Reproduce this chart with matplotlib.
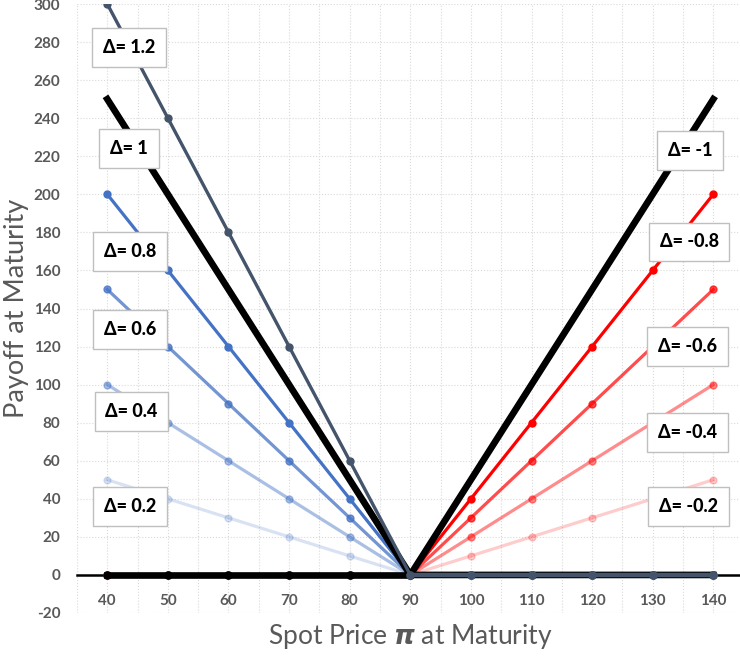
import matplotlib.pyplot as plt

plt.rcParams['font.family'] = ['Lato', 'DejaVu Sans']
plt.rcParams['axes.unicode_minus'] = False

spot = [40, 50, 60, 70, 80, 90, 100, 110, 120, 130, 140]

# payoff lines, one per delta
pay_1_2 = [300, 240, 180, 120, 60, 0, 0, 0, 0, 0, 0]
pay_1 = [250, 200, 150, 100, 50, 0, 0, 0, 0, 0, 0]
pay_0_8 = [200, 160, 120, 80, 40, 0, 0, 0, 0, 0, 0]
pay_0_6 = [150, 120, 90, 60, 30, 0, 0, 0, 0, 0, 0]
pay_0_4 = [100, 80, 60, 40, 20, 0, 0, 0, 0, 0, 0]
pay_0_2 = [50, 40, 30, 20, 10, 0, 0, 0, 0, 0, 0]
pay_m1 = [0, 0, 0, 0, 0, 0, 50, 100, 150, 200, 250]
pay_m0_8 = [0, 0, 0, 0, 0, 0, 40, 80, 120, 160, 200]
pay_m0_6 = [0, 0, 0, 0, 0, 0, 30, 60, 90, 120, 150]
pay_m0_4 = [0, 0, 0, 0, 0, 0, 20, 40, 60, 80, 100]
pay_m0_2 = [0, 0, 0, 0, 0, 0, 10, 20, 30, 40, 50]

# label text and where the box sits (x, y in data units)
labels = ['Δ= 1.2', 'Δ= 1', 'Δ= 0.8', 'Δ= 0.6', 'Δ= 0.4', 'Δ= 0.2',
          'Δ= -1', 'Δ= -0.8', 'Δ= -0.6', 'Δ= -0.4', 'Δ= -0.2']
label_x = [43.6, 43.6, 43.8, 43.8, 44.0, 43.8, 136.2, 136.0, 135.7, 135.7, 135.9]
label_y = [277, 224, 170, 129, 86, 36, 223, 175, 120, 75, 36]

fig = plt.figure(figsize=(7.4, 6.6), dpi=100)
ax = fig.add_axes([77 / 740, 47 / 660, 666.6 / 740, 609 / 660])

blue = '#4472C4'
red = '#FF0000'
for vals, a in zip([pay_0_2, pay_0_4, pay_0_6, pay_0_8], [0.2, 0.45, 0.75, 1.0]):
    ax.plot(spot, vals, color=blue, alpha=a, lw=2.3, marker='o', ms=5, zorder=3)
for vals, a in zip([pay_m0_2, pay_m0_4, pay_m0_6, pay_m0_8], [0.2, 0.45, 0.7, 1.0]):
    ax.plot(spot, vals, color=red, alpha=a, lw=2.3, marker='o', ms=5, zorder=3)

ax.plot(spot, pay_1, color='black', lw=4.8, zorder=4)
ax.plot(spot, pay_1_2, color='#44546A', lw=2.4, marker='o', ms=5, zorder=5)
ax.plot(spot[:6], pay_m1[:6], color='black', lw=4.8, marker='o', ms=5, zorder=4)
ax.plot(spot[5:], pay_m1[5:], color='black', lw=4.8, zorder=4)
ax.plot(spot[5:], pay_1_2[5:], color='#44546A', lw=3.2, marker='o', ms=5, zorder=5)

for t, x, y in zip(labels, label_x, label_y):
    ax.text(x, y, t, ha='center', va='center', fontsize=13, fontweight='black',
            zorder=6,
            bbox=dict(boxstyle='square,pad=0.6', fc='white', ec='#BFBFBF', lw=1))

ax.set_xlim(35, 145)
ax.set_ylim(-20, 300)
ax.set_xticks(spot)
ax.set_xticks([35 + 10 * i for i in range(11)], minor=True)
ax.set_yticks(range(-20, 301, 20))

ax.grid(True, which='both', color='#D9D9D9', ls=':', lw=0.8)
ax.set_axisbelow(True)

for s in ['top', 'right', 'left']:
    ax.spines[s].set_visible(False)
ax.spines['bottom'].set_position(('data', 0))
ax.spines['bottom'].set_linewidth(1.8)
ax.spines['bottom'].set_color('black')
ax.spines['bottom'].set_zorder(2)

ax.tick_params(axis='both', which='both', length=0, colors='#595959', labelsize=11)
ax.tick_params(axis='x', pad=14)
ax.tick_params(axis='y', pad=12)
for lab in ax.get_xticklabels() + ax.get_yticklabels():
    lab.set_fontweight('bold')

ax.set_xlabel(r'Spot Price $\boldsymbol{\pi}$ at Maturity', fontsize=19, color='#595959')
ax.xaxis.label.set_va('center')
ax.xaxis.set_label_coords(0.5, -0.038)
ax.set_ylabel('Payoff at Maturity', fontsize=19.5, color='#595959')
ax.yaxis.set_label_coords(-0.072, 0.5)

fig.savefig('out.png', dpi=100)
